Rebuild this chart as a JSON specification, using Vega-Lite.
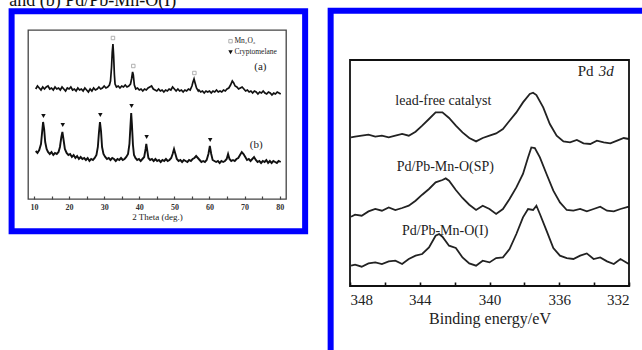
{
  "$schema": "https://vega.github.io/schema/vega-lite/v6.json",
  "background": "white",
  "padding": {"left": 7, "top": -9, "right": -21, "bottom": -23},
  "spacing": 18,
  "config": {
    "font": "Liberation Serif",
    "axis": {"grid": false, "titleFontWeight": "normal"}
  },
  "datasets": {
    "xrdA": [
      {"t":10.5,"i":110},{"t":11,"i":113},{"t":11.5,"i":111},{"t":12,"i":109},{"t":12.5,"i":112},{"t":13,"i":110},{"t":13.5,"i":112},{"t":14,"i":113},{"t":14.5,"i":110},{"t":15,"i":111},{"t":15.5,"i":109},{"t":16,"i":112},{"t":16.5,"i":110},{"t":17,"i":111},{"t":17.5,"i":109},{"t":18,"i":112},{"t":18.5,"i":110},{"t":19,"i":108},{"t":19.5,"i":111},{"t":20,"i":110},{"t":20.5,"i":112},{"t":21,"i":109},{"t":21.5,"i":110},{"t":22,"i":108},{"t":22.5,"i":111},{"t":23,"i":109},{"t":23.5,"i":110},{"t":24,"i":108},{"t":24.5,"i":111},{"t":25,"i":109},{"t":25.5,"i":107},{"t":26,"i":110},{"t":26.5,"i":108},{"t":27,"i":111},{"t":27.5,"i":109},{"t":28,"i":110},{"t":28.5,"i":112},{"t":29,"i":110},{"t":29.5,"i":111},{"t":30,"i":113},{"t":30.5,"i":111},{"t":31,"i":112},{"t":31.5,"i":114},{"t":31.8,"i":118},{"t":32.1,"i":132},{"t":32.3,"i":147},{"t":32.5,"i":155},{"t":32.7,"i":143},{"t":32.9,"i":125},{"t":33.1,"i":115},{"t":33.5,"i":112},{"t":34,"i":113},{"t":34.5,"i":111},{"t":35,"i":113},{"t":35.5,"i":112},{"t":36,"i":114},{"t":36.5,"i":112},{"t":37,"i":113},{"t":37.5,"i":115},{"t":37.8,"i":120},{"t":38.1,"i":127},{"t":38.3,"i":124},{"t":38.6,"i":114},{"t":39,"i":110},{"t":39.5,"i":111},{"t":40,"i":109},{"t":40.5,"i":110},{"t":41,"i":108},{"t":41.5,"i":110},{"t":42,"i":109},{"t":42.5,"i":111},{"t":43,"i":112},{"t":43.5,"i":113},{"t":44,"i":110},{"t":44.5,"i":109},{"t":45,"i":108},{"t":45.5,"i":110},{"t":46,"i":108},{"t":46.5,"i":109},{"t":47,"i":107},{"t":47.5,"i":109},{"t":48,"i":108},{"t":48.5,"i":110},{"t":49,"i":109},{"t":49.5,"i":112},{"t":50,"i":110},{"t":50.5,"i":108},{"t":51,"i":110},{"t":51.5,"i":108},{"t":52,"i":109},{"t":52.5,"i":107},{"t":53,"i":109},{"t":53.5,"i":108},{"t":54,"i":110},{"t":54.5,"i":109},{"t":55,"i":113},{"t":55.3,"i":117},{"t":55.6,"i":120},{"t":55.9,"i":116},{"t":56.3,"i":111},{"t":56.8,"i":108},{"t":57,"i":109},{"t":57.5,"i":107},{"t":58,"i":108},{"t":58.5,"i":106},{"t":59,"i":108},{"t":59.5,"i":107},{"t":60,"i":108},{"t":60.5,"i":106},{"t":61,"i":108},{"t":61.5,"i":107},{"t":62,"i":109},{"t":62.5,"i":107},{"t":63,"i":108},{"t":63.5,"i":107},{"t":64,"i":109},{"t":64.5,"i":108},{"t":65,"i":110},{"t":65.5,"i":111},{"t":66,"i":114},{"t":66.5,"i":118},{"t":66.9,"i":116},{"t":67.3,"i":113},{"t":67.8,"i":112},{"t":68.3,"i":110},{"t":68.8,"i":111},{"t":69.3,"i":112},{"t":69.8,"i":110},{"t":70.3,"i":108},{"t":70.8,"i":109},{"t":71.3,"i":107},{"t":71.8,"i":108},{"t":72.3,"i":106},{"t":72.8,"i":108},{"t":73.3,"i":107},{"t":73.8,"i":105},{"t":74.3,"i":107},{"t":74.8,"i":106},{"t":75.3,"i":108},{"t":75.8,"i":106},{"t":76.3,"i":105},{"t":76.8,"i":107},{"t":77.3,"i":106},{"t":77.8,"i":104},{"t":78.3,"i":106},{"t":78.8,"i":105},{"t":79.3,"i":107},{"t":79.8,"i":106},{"t":80.3,"i":105}
    ],
    "xrdB": [
      {"t":10.5,"i":48},{"t":11,"i":46},{"t":11.5,"i":49},{"t":12,"i":55},{"t":12.3,"i":66},{"t":12.6,"i":77},{"t":12.9,"i":70},{"t":13.2,"i":57},{"t":13.6,"i":50},{"t":14,"i":47},{"t":14.5,"i":45},{"t":15,"i":47},{"t":15.5,"i":44},{"t":16,"i":46},{"t":16.5,"i":45},{"t":17,"i":47},{"t":17.4,"i":52},{"t":17.8,"i":62},{"t":18.1,"i":67},{"t":18.4,"i":60},{"t":18.8,"i":50},{"t":19.3,"i":46},{"t":19.8,"i":44},{"t":20.3,"i":45},{"t":20.8,"i":42},{"t":21.3,"i":44},{"t":21.8,"i":41},{"t":22.3,"i":43},{"t":22.8,"i":40},{"t":23.3,"i":42},{"t":23.8,"i":40},{"t":24.3,"i":41},{"t":24.8,"i":39},{"t":25.3,"i":41},{"t":25.8,"i":38},{"t":26.3,"i":40},{"t":26.8,"i":39},{"t":27.3,"i":41},{"t":27.8,"i":44},{"t":28.2,"i":52},{"t":28.5,"i":66},{"t":28.8,"i":77},{"t":29.1,"i":68},{"t":29.4,"i":52},{"t":29.8,"i":45},{"t":30.3,"i":42},{"t":30.8,"i":40},{"t":31.3,"i":41},{"t":31.8,"i":39},{"t":32.3,"i":41},{"t":32.8,"i":40},{"t":33.3,"i":38},{"t":33.8,"i":40},{"t":34.3,"i":39},{"t":34.8,"i":41},{"t":35.3,"i":39},{"t":35.8,"i":40},{"t":36.3,"i":42},{"t":36.8,"i":45},{"t":37.2,"i":55},{"t":37.5,"i":74},{"t":37.7,"i":86},{"t":37.9,"i":75},{"t":38.2,"i":54},{"t":38.5,"i":44},{"t":38.9,"i":41},{"t":39.4,"i":39},{"t":39.9,"i":40},{"t":40.4,"i":38},{"t":40.9,"i":40},{"t":41.4,"i":42},{"t":41.8,"i":50},{"t":42.0,"i":55},{"t":42.3,"i":48},{"t":42.6,"i":41},{"t":43.1,"i":39},{"t":43.6,"i":40},{"t":44.1,"i":38},{"t":44.6,"i":40},{"t":45.1,"i":38},{"t":45.6,"i":39},{"t":46.1,"i":37},{"t":46.6,"i":39},{"t":47.1,"i":38},{"t":47.6,"i":40},{"t":48.1,"i":38},{"t":48.6,"i":39},{"t":49.1,"i":41},{"t":49.5,"i":45},{"t":49.9,"i":50},{"t":50.3,"i":45},{"t":50.7,"i":40},{"t":51.2,"i":38},{"t":51.7,"i":39},{"t":52.2,"i":37},{"t":52.7,"i":39},{"t":53.2,"i":38},{"t":53.7,"i":37},{"t":54.2,"i":39},{"t":54.7,"i":38},{"t":55.2,"i":40},{"t":55.7,"i":41},{"t":56.2,"i":43},{"t":56.7,"i":41},{"t":57.2,"i":39},{"t":57.7,"i":37},{"t":58.2,"i":38},{"t":58.7,"i":37},{"t":59.2,"i":39},{"t":59.7,"i":45},{"t":60.1,"i":53},{"t":60.5,"i":45},{"t":60.9,"i":39},{"t":61.4,"i":38},{"t":61.9,"i":37},{"t":62.4,"i":38},{"t":62.9,"i":36},{"t":63.4,"i":38},{"t":63.9,"i":37},{"t":64.4,"i":38},{"t":64.9,"i":40},{"t":65.3,"i":45},{"t":65.7,"i":40},{"t":66.2,"i":38},{"t":66.7,"i":39},{"t":67.2,"i":38},{"t":67.7,"i":40},{"t":68.2,"i":41},{"t":68.7,"i":44},{"t":69.2,"i":47},{"t":69.7,"i":45},{"t":70.2,"i":42},{"t":70.7,"i":39},{"t":71.2,"i":40},{"t":71.7,"i":38},{"t":72.2,"i":40},{"t":72.7,"i":42},{"t":73.2,"i":39},{"t":73.7,"i":37},{"t":74.2,"i":38},{"t":74.7,"i":36},{"t":75.2,"i":38},{"t":75.7,"i":37},{"t":76.2,"i":39},{"t":76.7,"i":36},{"t":77.2,"i":38},{"t":77.7,"i":36},{"t":78.2,"i":38},{"t":78.7,"i":37},{"t":79.2,"i":36},{"t":79.7,"i":38},{"t":80.3,"i":37}
    ],
    "mn2o3": [{"t":32.5,"i":161},{"t":38.3,"i":133},{"t":55.7,"i":126},{"t":66.0,"i":157.8}],
    "crypto": [{"t":12.7,"i":83},{"t":18.2,"i":74},{"t":28.9,"i":84},{"t":37.8,"i":93},{"t":42.1,"i":62},{"t":60.2,"i":59},{"t":66.0,"i":146.8}],
    "legendText": [
      {"t":67.1,"i":157.8,"txt":"Mn₂O₃"},
      {"t":67.1,"i":146.8,"txt":"Cryptomelane"}
    ],
    "abText": [
      {"t":74.5,"i":132.3,"txt":"(a)"},
      {"t":73.3,"i":54,"txt":"(b)"}
    ],
    "xps": [
      {"s":"L","e":347.94,"v":148.6},{"s":"L","e":347.71,"v":149.3},{"s":"L","e":347.33,"v":150.3},{"s":"L","e":346.94,"v":151.3},{"s":"L","e":346.55,"v":149.3},{"s":"L","e":346.17,"v":150.3},{"s":"L","e":345.78,"v":148.6},{"s":"L","e":345.40,"v":150.3},{"s":"L","e":345.01,"v":152},{"s":"L","e":344.63,"v":150.3},{"s":"L","e":344.24,"v":154.3},{"s":"L","e":343.86,"v":160.3},{"s":"L","e":343.47,"v":167},{"s":"L","e":343.09,"v":173.6},{"s":"L","e":342.70,"v":173.6},{"s":"L","e":342.32,"v":168},{"s":"L","e":341.93,"v":160.3},{"s":"L","e":341.55,"v":153.6},{"s":"L","e":341.16,"v":148},{"s":"L","e":340.77,"v":144.6},{"s":"L","e":340.39,"v":148},{"s":"L","e":340.00,"v":150.3},{"s":"L","e":339.62,"v":152.6},{"s":"L","e":339.23,"v":157},{"s":"L","e":338.85,"v":165.3},{"s":"L","e":338.46,"v":173.6},{"s":"L","e":338.08,"v":183.6},{"s":"L","e":337.69,"v":192},{"s":"L","e":337.50,"v":193.3},{"s":"L","e":337.31,"v":191},{"s":"L","e":336.92,"v":178.6},{"s":"L","e":336.54,"v":162},{"s":"L","e":336.15,"v":150.3},{"s":"L","e":335.76,"v":144.6},{"s":"L","e":335.38,"v":143.6},{"s":"L","e":334.99,"v":146},{"s":"L","e":334.61,"v":142.6},{"s":"L","e":334.22,"v":142},{"s":"L","e":333.84,"v":145.3},{"s":"L","e":333.45,"v":143.6},{"s":"L","e":333.07,"v":142.6},{"s":"L","e":332.68,"v":145.3},{"s":"L","e":332.30,"v":148},{"s":"L","e":332.01,"v":147},
      {"s":"SP","e":347.94,"v":69.3},{"s":"SP","e":347.71,"v":71.3},{"s":"SP","e":347.33,"v":70.3},{"s":"SP","e":346.94,"v":74.6},{"s":"SP","e":346.55,"v":77},{"s":"SP","e":346.17,"v":75.3},{"s":"SP","e":345.78,"v":78.6},{"s":"SP","e":345.40,"v":76},{"s":"SP","e":345.01,"v":78},{"s":"SP","e":344.63,"v":80.3},{"s":"SP","e":344.24,"v":85.3},{"s":"SP","e":343.86,"v":91.3},{"s":"SP","e":343.47,"v":97},{"s":"SP","e":343.09,"v":103.6},{"s":"SP","e":342.70,"v":106},{"s":"SP","e":342.51,"v":107.6},{"s":"SP","e":342.32,"v":105.3},{"s":"SP","e":341.93,"v":96},{"s":"SP","e":341.55,"v":88},{"s":"SP","e":341.16,"v":81.3},{"s":"SP","e":340.77,"v":76},{"s":"SP","e":340.39,"v":80.3},{"s":"SP","e":340.00,"v":77},{"s":"SP","e":339.62,"v":72},{"s":"SP","e":339.23,"v":77},{"s":"SP","e":338.85,"v":87},{"s":"SP","e":338.46,"v":98.6},{"s":"SP","e":338.08,"v":112},{"s":"SP","e":337.79,"v":128.6},{"s":"SP","e":337.60,"v":138.6},{"s":"SP","e":337.40,"v":138},{"s":"SP","e":337.11,"v":128.6},{"s":"SP","e":336.73,"v":112},{"s":"SP","e":336.34,"v":95.3},{"s":"SP","e":335.96,"v":83.6},{"s":"SP","e":335.57,"v":76},{"s":"SP","e":335.19,"v":75.3},{"s":"SP","e":334.80,"v":77},{"s":"SP","e":334.42,"v":74.6},{"s":"SP","e":334.03,"v":77},{"s":"SP","e":333.65,"v":79.3},{"s":"SP","e":333.26,"v":75.3},{"s":"SP","e":332.87,"v":74.6},{"s":"SP","e":332.49,"v":77},{"s":"SP","e":332.01,"v":79.3},
      {"s":"I","e":347.94,"v":20.3},{"s":"I","e":347.71,"v":21.3},{"s":"I","e":347.33,"v":19.3},{"s":"I","e":346.94,"v":22.6},{"s":"I","e":346.55,"v":23.6},{"s":"I","e":346.17,"v":22},{"s":"I","e":345.78,"v":24.6},{"s":"I","e":345.40,"v":25.3},{"s":"I","e":345.01,"v":22},{"s":"I","e":344.63,"v":27},{"s":"I","e":344.24,"v":30.3},{"s":"I","e":343.86,"v":32},{"s":"I","e":343.47,"v":38.6},{"s":"I","e":343.09,"v":50.3},{"s":"I","e":342.89,"v":52},{"s":"I","e":342.70,"v":49.3},{"s":"I","e":342.32,"v":40.3},{"s":"I","e":341.93,"v":38},{"s":"I","e":341.55,"v":28.6},{"s":"I","e":341.16,"v":22.6},{"s":"I","e":340.77,"v":20.3},{"s":"I","e":340.39,"v":25.3},{"s":"I","e":340.00,"v":23.6},{"s":"I","e":339.62,"v":27.9},{"s":"I","e":339.23,"v":28.6},{"s":"I","e":338.85,"v":37},{"s":"I","e":338.46,"v":52},{"s":"I","e":338.08,"v":68.6},{"s":"I","e":337.79,"v":77},{"s":"I","e":337.50,"v":76},{"s":"I","e":337.31,"v":80.3},{"s":"I","e":337.11,"v":72},{"s":"I","e":336.73,"v":55.3},{"s":"I","e":336.34,"v":38},{"s":"I","e":335.96,"v":30.3},{"s":"I","e":335.57,"v":27.9},{"s":"I","e":335.19,"v":27},{"s":"I","e":334.80,"v":30.3},{"s":"I","e":334.42,"v":32.6},{"s":"I","e":334.03,"v":27},{"s":"I","e":333.65,"v":28.6},{"s":"I","e":333.26,"v":24.6},{"s":"I","e":332.87,"v":22},{"s":"I","e":332.49,"v":27},{"s":"I","e":332.01,"v":22}
    ],
    "xpsText": [
      {"e":345.40,"v":185.3,"txt":"lead-free catalyst"},
      {"e":345.32,"v":118.6,"txt":"Pd/Pb-Mn-O(SP)"},
      {"e":345.02,"v":55.3,"txt":"Pd/Pb-Mn-O(I)"}
    ]
  },
  "hconcat": [
    {
      "width": 258,
      "height": 169,
      "view": {"stroke": "#444", "strokeWidth": 1.3},
      "resolve": {"axis": {"x": "independent", "y": "independent"}},
      "layer": [
        {
          "data": {"name": "xrdA"},
          "mark": {"type": "line", "color": "#111", "strokeWidth": 1.7},
          "encoding": {
            "x": {"field": "t", "type": "quantitative", "scale": {"domain": [8.3, 81.8], "nice": false, "zero": false},
              "axis": {"values": [10,15,20,25,30,35,40,45,50,55,60,65,70,75,80], "labelExpr": "datum.value % 10 === 0 ? datum.label : ''", "tickSize": -3, "tickColor": "#444", "tickWidth": 1.2, "domain": false, "labelFontSize": 8, "labelFontWeight": "bold", "labelColor": "#333", "labelPadding": 7.5, "title": "2 Theta (deg.)", "titleFontSize": 9, "titleColor": "#222", "titlePadding": 1}},
            "y": {"field": "i", "type": "quantitative", "scale": {"domain": [0, 169], "nice": false, "zero": false}, "axis": null}
          }
        },
        {
          "data": {"values": [{"a": 1}]},
          "mark": {"type": "rect", "fill": null, "stroke": "#0000ff", "strokeWidth": 6},
          "encoding": {
            "x": {"datum": 3.63, "type": "quantitative", "axis": null},
            "x2": {"datum": 87.25},
            "y": {"datum": 187.8, "type": "quantitative", "axis": null},
            "y2": {"datum": -32.2}
          }
        },
        {
          "data": {"values": [{"txt": "and (b) Pd/Pb-Mn-O(I)"}]},
          "mark": {"type": "text", "align": "left", "baseline": "alphabetic", "fontSize": 18, "color": "#111"},
          "encoding": {
            "x": {"datum": 2.97, "type": "quantitative", "axis": null},
            "y": {"datum": 193.3, "type": "quantitative", "axis": null},
            "text": {"field": "txt", "type": "nominal"}
          }
        },
        {
          "data": {"name": "xrdB"},
          "mark": {"type": "line", "color": "#111", "strokeWidth": 1.9},
          "encoding": {
            "x": {"field": "t", "type": "quantitative", "axis": null},
            "y": {"field": "i", "type": "quantitative", "axis": null}
          }
        },
        {
          "data": {"name": "mn2o3"},
          "mark": {"type": "point", "shape": "square", "filled": false, "size": 12, "color": "#777", "strokeWidth": 0.8},
          "encoding": {
            "x": {"field": "t", "type": "quantitative", "axis": null},
            "y": {"field": "i", "type": "quantitative", "axis": null}
          }
        },
        {
          "data": {"name": "crypto"},
          "mark": {"type": "point", "shape": "triangle-down", "filled": true, "size": 20, "color": "#111", "opacity": 1},
          "encoding": {
            "x": {"field": "t", "type": "quantitative", "axis": null},
            "y": {"field": "i", "type": "quantitative", "axis": null}
          }
        },
        {
          "data": {"name": "legendText"},
          "mark": {"type": "text", "align": "left", "baseline": "middle", "fontSize": 7.5, "color": "#222"},
          "encoding": {
            "x": {"field": "t", "type": "quantitative", "axis": null},
            "y": {"field": "i", "type": "quantitative", "axis": null},
            "text": {"field": "txt", "type": "nominal"}
          }
        },
        {
          "data": {"name": "abText"},
          "mark": {"type": "text", "align": "center", "baseline": "middle", "fontSize": 11, "color": "#222"},
          "encoding": {
            "x": {"field": "t", "type": "quantitative", "axis": null},
            "y": {"field": "i", "type": "quantitative", "axis": null},
            "text": {"field": "txt", "type": "nominal"}
          }
        }
      ]
    },
    {
      "width": 279,
      "height": 256,
      "view": {"stroke": null},
      "resolve": {"axis": {"x": "independent", "y": "independent"}},
      "layer": [
        {
          "data": {"name": "xps"},
          "mark": {"type": "line", "color": "#222", "strokeWidth": 1.8},
          "encoding": {
            "x": {"field": "e", "type": "quantitative", "scale": {"domain": [348, 332], "nice": false, "zero": false},
              "axis": {"values": [348,346,344,342,340,338,336,334,332], "labelExpr": "datum.value % 4 === 0 ? datum.label : ''", "tickSize": -4, "tickColor": "#111", "tickWidth": 1.6, "domain": false, "labelFontSize": 15, "labelColor": "#222", "labelPadding": 10, "title": "Binding energy/eV", "titleFontSize": 16, "titleColor": "#222", "titlePadding": 3}},
            "y": {"field": "v", "type": "quantitative", "scale": {"domain": [0, 256], "nice": false, "zero": false}, "axis": null},
            "detail": {"field": "s", "type": "nominal"}
          }
        },
        {
          "data": {"values": [{"a": 1}]},
          "mark": {"type": "rect", "fill": null, "stroke": "#0000ff", "strokeWidth": 6},
          "encoding": {
            "x": {"datum": 349.11, "type": "quantitative", "axis": null},
            "x2": {"datum": 330.07},
            "y": {"datum": 275.3, "type": "quantitative", "axis": null},
            "y2": {"datum": -84.7}
          }
        },
        {
          "data": {"values": [{"a": 1}]},
          "mark": {"type": "rect", "fill": null, "stroke": "#111", "strokeWidth": 1.8},
          "encoding": {
            "x": {"datum": 348, "type": "quantitative", "axis": null},
            "x2": {"datum": 332},
            "y": {"datum": 0, "type": "quantitative", "axis": null},
            "y2": {"datum": 226}
          }
        },
        {
          "data": {"name": "xpsText"},
          "mark": {"type": "text", "align": "left", "baseline": "middle", "fontSize": 14, "color": "#222"},
          "encoding": {
            "x": {"field": "e", "type": "quantitative", "axis": null},
            "y": {"field": "v", "type": "quantitative", "axis": null},
            "text": {"field": "txt", "type": "nominal"}
          }
        },
        {
          "data": {"values": [{"txt": "Pd"}]},
          "mark": {"type": "text", "align": "left", "baseline": "middle", "fontSize": 15, "color": "#222"},
          "encoding": {
            "x": {"datum": 334.94, "type": "quantitative", "axis": null},
            "y": {"datum": 215.3, "type": "quantitative", "axis": null},
            "text": {"field": "txt", "type": "nominal"}
          }
        },
        {
          "data": {"values": [{"txt": "3d"}]},
          "mark": {"type": "text", "align": "left", "baseline": "middle", "fontSize": 15, "fontStyle": "italic", "color": "#222"},
          "encoding": {
            "x": {"datum": 333.74, "type": "quantitative", "axis": null},
            "y": {"datum": 215.3, "type": "quantitative", "axis": null},
            "text": {"field": "txt", "type": "nominal"}
          }
        }
      ]
    }
  ]
}
